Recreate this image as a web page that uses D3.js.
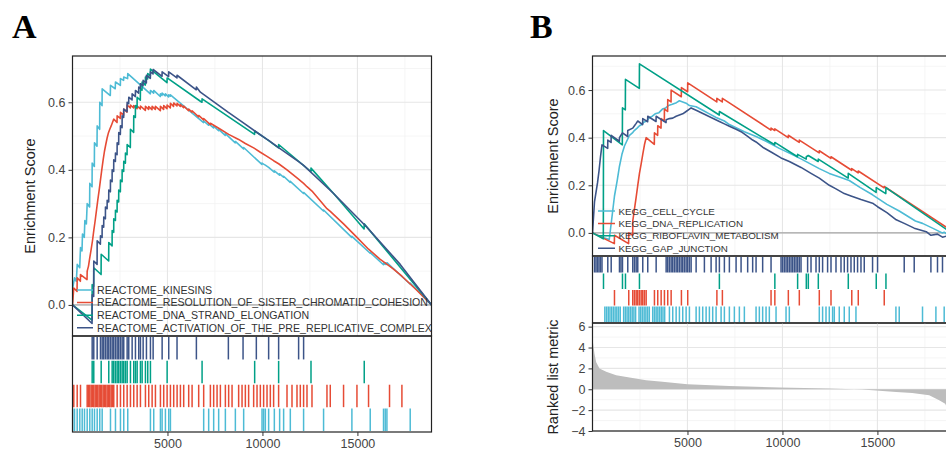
<!DOCTYPE html>
<html>
<head>
<meta charset="utf-8">
<script src="https://cdn.jsdelivr.net/npm/d3@7"></script>
<style>
  body { margin: 0; background: #fff; }
  svg { display: block; font-family: "Liberation Sans", Arial, sans-serif; }
</style>
</head>
<body>
<svg></svg>
<script>
// ---- data ----
const rankMax = 18900;
const xTicks = [5000, 10000, 15000];
const xMinor = [2500, 7500, 12500, 17500];
const esTicks = [0, 0.2, 0.4, 0.6];
const esMinor = [0.1, 0.3, 0.5, 0.7];
const metricTicks = [-4, -2, 0, 2, 4, 6];
const metricMinor = [-3, -1, 1, 3, 5];

const namesA = ["REACTOME_KINESINS", "REACTOME_RESOLUTION_OF_SISTER_CHROMATID_COHESION",
  "REACTOME_DNA_STRAND_ELONGATION", "REACTOME_ACTIVATION_OF_THE_PRE_REPLICATIVE_COMPLEX"];
const namesB = ["KEGG_CELL_CYCLE", "KEGG_DNA_REPLICATION", "KEGG_RIBOFLAVIN_METABOLISM", "KEGG_GAP_JUNCTION"];
const colors = ["#4DBBD5", "#E64B35", "#00A087", "#3C5488"];

// running enrichment score, [rank, ES]
const esKinesins = [[0,0],[10,0.05],[105,0.08],[200,0.07],[250,0.12],[380,0.11],[421,0.17],[500,0.16],[526,0.21],[620,0.20],[650,0.25],[730,0.24],[773,0.30],[900,0.29],[910,0.36],[1030,0.35],[1036,0.42],[1150,0.41],[1157,0.48],[1290,0.47],[1299,0.53],[1430,0.52],[1436,0.60],[1556,0.59],[1562,0.64],[1990,0.62],[2000,0.65],[2250,0.64],[2262,0.66],[2520,0.65],[2525,0.67],[2690,0.665],[2698,0.675],[2900,0.67],[2909,0.685],[4098,0.625],[4103,0.635],[4270,0.627],[4276,0.635],[4620,0.617],[4629,0.625],[4712,0.62],[4718,0.627],[4885,0.619],[4892,0.625],[5060,0.616],[5066,0.622],[5150,0.618],[5155,0.622],[6900,0.54],[6906,0.545],[7160,0.532],[7169,0.537],[7425,0.524],[7432,0.529],[7690,0.516],[7695,0.52],[8040,0.502],[8048,0.507],[8570,0.48],[8574,0.484],[9005,0.462],[9011,0.466],[9970,0.416],[9978,0.42],[10062,0.417],[10152,0.414],[10326,0.407],[10620,0.393],[10626,0.397],[10900,0.384],[10905,0.388],[11110,0.378],[11115,0.381],[11460,0.363],[11467,0.366],[12160,0.33],[12166,0.333],[13210,0.278],[13218,0.281],[14700,0.2],[14709,0.203],[15670,0.153],[15674,0.155],[16370,0.119],[16374,0.124],[16460,0.12],[16464,0.125],[16550,0.12],[16553,0.125],[17770,0.062],[17779,0.065],[18900,0]];
const esCohesion = [[0,0],[68,0.05],[240,0.04],[247,0.08],[415,0.07],[421,0.09],[765,0.075],[773,0.10],[842,0.115],[910,0.14],[984,0.165],[1052,0.19],[1120,0.22],[1194,0.25],[1262,0.28],[1331,0.31],[1404,0.34],[1473,0.37],[1541,0.40],[1615,0.43],[1683,0.455],[1752,0.475],[1825,0.495],[1894,0.51],[1962,0.52],[2036,0.53],[2104,0.54],[2172,0.55],[2345,0.54],[2351,0.56],[2520,0.552],[2525,0.57],[2690,0.562],[2698,0.58],[2870,0.571],[2877,0.592],[3045,0.583],[3051,0.592],[3220,0.583],[3224,0.59],[3400,0.581],[3403,0.589],[3570,0.58],[3577,0.589],[3835,0.576],[3840,0.588],[4008,0.579],[4013,0.587],[4185,0.578],[4192,0.588],[4360,0.579],[4366,0.588],[4625,0.575],[4629,0.588],[4798,0.579],[4802,0.59],[4975,0.581],[4981,0.592],[5150,0.583],[5155,0.597],[5320,0.588],[5328,0.598],[5500,0.589],[5507,0.597],[5675,0.588],[5681,0.593],[5850,0.584],[5854,0.589],[6110,0.575],[6117,0.58],[6290,0.571],[6296,0.575],[6640,0.557],[6643,0.561],[6900,0.548],[6906,0.552],[7255,0.534],[7259,0.538],[7785,0.52],[8221,0.505],[8747,0.49],[9100,0.478],[9537,0.465],[9889,0.452],[10241,0.44],[10588,0.427],[10851,0.418],[11293,0.40],[11556,0.388],[11819,0.376],[12166,0.36],[12345,0.35],[12608,0.337],[13397,0.285],[13571,0.277],[14270,0.24],[14975,0.2],[15586,0.165],[16201,0.135],[16690,0.115],[16901,0.106],[17342,0.085],[18100,0.045],[18900,0]];
const esStrand = [[0,0],[1030,-0.045],[1036,0.06],[1115,0.055],[1120,0.11],[1505,0.09],[1510,0.15],[1905,0.13],[1910,0.185],[2085,0.175],[2088,0.22],[2170,0.215],[2172,0.255],[2260,0.25],[2262,0.28],[2348,0.275],[2351,0.31],[2430,0.305],[2435,0.34],[2520,0.335],[2525,0.37],[2610,0.365],[2614,0.40],[2695,0.395],[2698,0.425],[2785,0.42],[2788,0.45],[2873,0.445],[2877,0.475],[3045,0.466],[3051,0.52],[3220,0.511],[3224,0.56],[3310,0.555],[3314,0.59],[3400,0.585],[3403,0.615],[3570,0.606],[3577,0.64],[3660,0.636],[3666,0.66],[3835,0.651],[3840,0.675],[3955,0.669],[3961,0.685],[4098,0.678],[4103,0.698],[4975,0.658],[4982,0.672],[6733,0.603],[6815,0.60],[6822,0.61],[9585,0.505],[9590,0.515],[10241,0.49],[10845,0.465],[10852,0.475],[12550,0.395],[12556,0.405],[13745,0.33],[15350,0.225],[15359,0.24],[18900,0]];
const esPreRep = [[0,0],[1030,-0.055],[1036,0.03],[1115,0.025],[1120,0.13],[1295,0.12],[1299,0.19],[1468,0.18],[1473,0.205],[1558,0.2],[1562,0.235],[1642,0.23],[1646,0.26],[1732,0.255],[1736,0.29],[1822,0.285],[1826,0.31],[1906,0.305],[1910,0.34],[1995,0.335],[1999,0.37],[2084,0.365],[2088,0.40],[2168,0.395],[2172,0.43],[2258,0.425],[2262,0.45],[2347,0.445],[2351,0.48],[2430,0.475],[2435,0.51],[2520,0.505],[2525,0.53],[2610,0.525],[2614,0.56],[2694,0.555],[2698,0.58],[2870,0.572],[2877,0.60],[2958,0.596],[2962,0.615],[3135,0.607],[3140,0.625],[3310,0.617],[3314,0.635],[3483,0.627],[3488,0.645],[3573,0.641],[3577,0.655],[3714,0.649],[3719,0.665],[3888,0.657],[3893,0.68],[4098,0.671],[4103,0.69],[4240,0.684],[4245,0.697],[4714,0.677],[4719,0.69],[5060,0.676],[5066,0.69],[5498,0.672],[5503,0.68],[6517,0.637],[6522,0.645],[6733,0.63],[8206,0.57],[8979,0.54],[9678,0.512],[10241,0.49],[10326,0.487],[10852,0.466],[11904,0.424],[12167,0.413],[13745,0.33],[15500,0.23],[17253,0.12],[18900,0]];

const esCellCycle = [[0,0],[600,-0.02],[880,-0.028],[1000,0.05],[1157,0.155],[1300,0.22],[1420,0.28],[1550,0.33],[1683,0.365],[1800,0.385],[1946,0.41],[2100,0.42],[2200,0.43],[2350,0.44],[2472,0.45],[2600,0.455],[2700,0.465],[2850,0.47],[2998,0.485],[3150,0.49],[3300,0.50],[3500,0.505],[3682,0.52],[3850,0.525],[4000,0.535],[4200,0.54],[4418,0.547],[4576,0.555],[4750,0.55],[4929,0.545],[5102,0.535],[5455,0.53],[5802,0.515],[6154,0.50],[6507,0.485],[6943,0.47],[7206,0.455],[7995,0.425],[8611,0.405],[9137,0.385],[9836,0.355],[10362,0.335],[11000,0.31],[11940,0.27],[12466,0.25],[13000,0.235],[13518,0.22],[14100,0.19],[14744,0.16],[15500,0.12],[16148,0.092],[17000,0.05],[17374,0.04],[17900,0.02],[18410,0.0],[18515,0.003],[18900,-0.02]];
const esDnaRep = [[0,0],[1150,-0.045],[1157,-0.01],[1900,-0.045],[1909,0.0],[2115,-0.01],[2120,0.05],[2209,0.10],[2299,0.15],[2383,0.20],[2472,0.25],[2562,0.29],[2646,0.33],[2735,0.37],[2825,0.40],[3255,0.372],[3261,0.42],[3430,0.41],[3435,0.45],[3608,0.44],[3614,0.48],[3782,0.47],[3787,0.52],[3955,0.51],[3961,0.56],[4135,0.55],[4140,0.60],[4675,0.572],[4681,0.61],[5007,0.593],[5013,0.63],[6543,0.55],[6549,0.565],[6832,0.55],[6838,0.565],[7206,0.546],[9394,0.432],[9400,0.44],[9594,0.43],[9600,0.437],[10304,0.40],[10310,0.41],[10882,0.38],[10888,0.39],[11934,0.336],[11940,0.345],[12550,0.313],[12556,0.32],[13644,0.263],[13650,0.27],[13986,0.252],[13992,0.26],[15353,0.189],[15359,0.195],[18900,0.01]];
const esRiboflavin = [[0,0],[570,-0.025],[579,0.43],[1570,0.37],[1578,0.525],[1728,0.517],[1736,0.645],[2465,0.607],[2472,0.71],[6672,0.495],[6680,0.51],[9590,0.37],[9600,0.38],[10790,0.32],[10799,0.33],[11250,0.31],[11256,0.32],[11362,0.325],[11880,0.30],[11888,0.31],[13460,0.23],[13466,0.25],[14930,0.17],[14938,0.19],[15440,0.165],[15449,0.19],[18900,0]];
const esGapJunction = [[0,0],[105,0.13],[184,0.17],[263,0.21],[342,0.26],[421,0.32],[500,0.37],[800,0.355],[805,0.39],[978,0.38],[984,0.41],[1414,0.385],[1420,0.40],[1499,0.41],[1578,0.42],[1851,0.405],[1857,0.43],[2120,0.44],[2209,0.45],[2299,0.46],[2383,0.47],[2640,0.455],[2646,0.48],[2903,0.467],[2909,0.49],[3345,0.468],[3351,0.49],[3871,0.463],[3877,0.475],[4050,0.48],[4224,0.482],[4403,0.49],[4576,0.495],[4750,0.5],[4929,0.51],[5102,0.52],[5192,0.525],[5455,0.515],[5891,0.498],[6244,0.485],[6680,0.468],[6943,0.458],[7206,0.448],[7559,0.435],[7822,0.425],[8169,0.405],[8432,0.39],[8611,0.382],[8958,0.36],[9400,0.34],[9926,0.315],[10362,0.3],[10978,0.275],[11504,0.25],[11940,0.23],[12466,0.2],[12819,0.185],[13255,0.165],[13608,0.155],[14134,0.14],[14744,0.125],[15007,0.11],[15500,0.085],[15990,0.055],[16411,0.04],[16937,0.02],[17570,0.005],[17816,-0.01],[18163,-0.005],[18426,-0.018],[18900,-0.008]];

// hit positions (rank of each gene set member)
const hitsKinesins = [10,105,247,384,510,631,773,910,1036,1157,1299,1436,1562,2000,2262,2525,2698,2909,4103,4276,4629,4718,4892,5066,5155,6906,7169,7432,7695,8048,8574,9011,9978,10062,10152,10326,10626,10905,11115,11467,12166,13218,14709,15674,16374,16464,16553,17779];
const hitsCohesion = [68,247,421,773,842,910,984,1052,1120,1194,1262,1331,1404,1473,1541,1615,1683,1752,1825,1894,1962,2036,2104,2172,2351,2525,2698,2877,3051,3224,3403,3577,3840,4013,4192,4366,4629,4802,4981,5155,5328,5507,5681,5854,6117,6296,6643,6906,7259,7432,7611,7785,8048,8221,8400,8747,8926,9100,9273,9537,9715,9889,10062,10241,10415,10588,10851,11293,11556,11819,11993,12166,12345,12608,13397,13571,14270,14975,15586,16690,17342];
const hitsStrand = [1036,1120,1510,1910,2088,2172,2262,2351,2435,2525,2614,2698,2788,2877,3051,3224,3314,3403,3577,3666,3840,3961,4103,4982,6822,9590,10852,12556,15359];
const hitsPreRep = [1036,1120,1299,1473,1562,1646,1736,1826,1910,1999,2088,2172,2262,2351,2435,2525,2614,2698,2877,2962,3140,3314,3488,3577,3719,3893,4103,4245,4719,5066,5503,6522,8206,8979,9678,10326,10852,11904,12167];

const hitsCellCycle = [650,740,830,920,1010,1100,1190,1280,1370,1460,1640,1730,1820,1910,2000,2090,2180,2270,2450,2540,2630,2720,2810,2900,2990,3170,3260,3350,3440,3530,3620,3710,3800,4050,4224,4403,4576,4750,4929,5102,5455,5628,5802,5981,6154,6328,6507,6770,6943,7206,7469,7732,7995,8611,8784,8958,9137,9310,9663,10189,10362,11940,12114,12293,12466,12640,12729,12992,13255,13518,13870,15974,16148,17374,18079,18515];
const hitsDnaRep = [1157,1909,2120,2209,2299,2383,2472,2562,2646,2735,2825,3261,3435,3614,3787,3961,4140,4681,5013,6549,6838,9400,9600,10310,10888,11940,12556,13650,13992,15359];
const hitsRiboflavin = [579,1578,1736,2472,6680,9600,10799,11256,11362,11888,13466,14938,15449];
const hitsGapJunction = [105,184,263,342,421,500,805,984,1420,1499,1578,1857,2120,2209,2299,2383,2646,2909,3351,3877,3961,4050,4140,4224,4313,4403,4487,4576,4666,4750,4839,4929,5013,5102,5192,5455,5891,6244,6507,6680,6943,7206,7559,7822,8169,8432,8611,8958,9400,9926,10010,10099,10189,10273,10362,10452,10536,10625,10715,10799,10888,10978,11325,11504,11767,11940,12114,12377,12556,12819,13082,13255,13429,13608,13781,13955,14134,14307,14744,15007,16411,16937,17816,18163,18426];

// ranked list metric (panel B)
const metricRank = [1,105,195,368,721,1247,1946,2825,3682,4997,7206,9836,12466,14202,15990,16832,17726,18252,18568,18900];
const metricValue = [4.8,3.4,2.6,2.0,1.67,1.35,1.12,0.87,0.71,0.48,0.32,0.16,0.07,-0.03,-0.26,-0.35,-0.58,-1.06,-1.4,-2.6];

// ---- drawing ----
const svg = d3.select("svg").attr("width", 946).attr("height", 454);
const gridMajor = "#e6e6e6";
const gridMinor = "#f2f2f2";
const textColor = "#444";

function styleAxis(g) {
  g.select(".domain").remove();
  g.selectAll(".tick line").attr("stroke", "#333");
  g.selectAll(".tick text").attr("fill", textColor).style("font-size", "12.5px");
}

function gridLines(g, x, y, yMajor, yMinorVals, left, right, top, bottom) {
  g.selectAll(null).data(yMinorVals).enter().append("line")
    .attr("x1", left).attr("x2", right)
    .attr("y1", (d) => y(d)).attr("y2", (d) => y(d))
    .attr("stroke", gridMinor).attr("stroke-width", 0.8);
  g.selectAll(null).data(xMinor).enter().append("line")
    .attr("x1", (d) => x(d)).attr("x2", (d) => x(d))
    .attr("y1", top).attr("y2", bottom)
    .attr("stroke", gridMinor).attr("stroke-width", 0.8);
  g.selectAll(null).data(yMajor).enter().append("line")
    .attr("x1", left).attr("x2", right)
    .attr("y1", (d) => y(d)).attr("y2", (d) => y(d))
    .attr("stroke", gridMajor).attr("stroke-width", 1.1);
  g.selectAll(null).data(xTicks).enter().append("line")
    .attr("x1", (d) => x(d)).attr("x2", (d) => x(d))
    .attr("y1", top).attr("y2", bottom)
    .attr("stroke", gridMajor).attr("stroke-width", 1.1);
}

function gsea(cfg) {
  const x = d3.scaleLinear().domain([0, rankMax]).range([cfg.left, cfg.right]);
  const y = d3.scaleLinear().domain(cfg.esDomain).range([cfg.esBottom, cfg.esTop]);
  const g = svg.append("g");
  const w = cfg.right - cfg.left;

  g.append("clipPath").attr("id", "clip" + cfg.id).append("rect")
    .attr("x", cfg.left).attr("y", cfg.esTop)
    .attr("width", w).attr("height", cfg.esBottom - cfg.esTop);

  // ES panel
  const es = g.append("g").attr("clip-path", `url(#clip${cfg.id})`);
  gridLines(es, x, y, esTicks, esMinor, cfg.left, cfg.right, cfg.esTop, cfg.esBottom);
  es.append("line")
    .attr("x1", cfg.left).attr("x2", cfg.right)
    .attr("y1", y(0)).attr("y2", y(0))
    .attr("stroke", "#8c8c8c").attr("stroke-width", 0.9);

  const line = d3.line().x((d) => x(d[0])).y((d) => y(d[1]));
  cfg.es.forEach((s, i) => {
    es.append("path")
      .datum(s)
      .attr("d", line)
      .attr("fill", "none")
      .attr("stroke", colors[i])
      .attr("stroke-width", 1.6)
      .attr("stroke-linejoin", "round");
  });

  // legend
  cfg.names.forEach((n, i) => {
    const ly = cfg.legendY + i * cfg.legendStep;
    es.append("line")
      .attr("x1", cfg.keyX1).attr("x2", cfg.keyX2)
      .attr("y1", ly).attr("y2", ly)
      .attr("stroke", colors[i]).attr("stroke-width", 1.5);
    es.append("text")
      .attr("x", cfg.textX).attr("y", ly)
      .attr("dy", "0.36em")
      .attr("fill", "#333")
      .style("font-size", cfg.legendFont + "px")
      .text(n);
  });

  g.append("rect")
    .attr("x", cfg.left).attr("y", cfg.esTop)
    .attr("width", w).attr("height", cfg.esBottom - cfg.esTop)
    .attr("fill", "none").attr("stroke", "#222").attr("stroke-width", 1.2);

  // hit panel (rows top to bottom: last series first)
  const rows = d3.scaleBand().domain([3, 2, 1, 0])
    .range([cfg.esBottom + 1, cfg.hitBottom - 1]).paddingInner(0.06);
  cfg.hits.forEach((h, i) => {
    g.append("g").selectAll("line")
      .data(h)
      .enter()
      .append("line")
      .attr("x1", (d) => x(d)).attr("x2", (d) => x(d))
      .attr("y1", rows(i)).attr("y2", rows(i) + rows.bandwidth())
      .attr("stroke", colors[i])
      .attr("stroke-width", 1.5);
  });
  g.append("rect")
    .attr("x", cfg.left).attr("y", cfg.esBottom)
    .attr("width", w).attr("height", cfg.hitBottom - cfg.esBottom)
    .attr("fill", "none").attr("stroke", "#222").attr("stroke-width", 1.2);

  // ES axis
  g.append("g")
    .attr("transform", `translate(${cfg.left}, 0)`)
    .call(d3.axisLeft(y).tickValues(esTicks).tickFormat(d3.format(".1f")).tickSize(4).tickPadding(3))
    .call(styleAxis);
  g.append("text")
    .attr("transform", `translate(${cfg.titleX}, ${(cfg.esTop + cfg.esBottom) / 2}) rotate(-90)`)
    .attr("text-anchor", "middle")
    .attr("fill", "#222")
    .style("font-size", "14.5px")
    .text("Enrichment Score");

  let bottom = cfg.hitBottom;

  // ranked list metric panel
  if (cfg.rankBottom) {
    bottom = cfg.rankBottom;
    const yR = d3.scaleLinear().domain([-4, 6.35]).range([cfg.rankBottom, cfg.hitBottom]);
    const rk = g.append("g");
    gridLines(rk, x, yR, metricTicks, metricMinor, cfg.left, cfg.right, cfg.hitBottom, cfg.rankBottom);
    const area = d3.area()
      .x((d, i) => x(metricRank[i]))
      .y0(yR(0))
      .y1((d) => yR(d));
    rk.append("path")
      .datum(metricValue)
      .attr("d", area)
      .attr("fill", "#bdbdbd");
    g.append("rect")
      .attr("x", cfg.left).attr("y", cfg.hitBottom)
      .attr("width", w).attr("height", cfg.rankBottom - cfg.hitBottom)
      .attr("fill", "none").attr("stroke", "#222").attr("stroke-width", 1.2);
    g.append("g")
      .attr("transform", `translate(${cfg.left}, 0)`)
      .call(d3.axisLeft(yR).tickValues(metricTicks).tickSize(4).tickPadding(3))
      .call(styleAxis);
    g.append("text")
      .attr("transform", `translate(${cfg.titleX}, ${(cfg.hitBottom + cfg.rankBottom) / 2}) rotate(-90)`)
      .attr("text-anchor", "middle")
      .attr("fill", "#222")
      .style("font-size", "14.5px")
      .text("Ranked list metric");
  }

  g.append("g")
    .attr("transform", `translate(0, ${bottom})`)
    .call(d3.axisBottom(x).tickValues(xTicks).tickFormat(d3.format("d")).tickSize(4).tickPadding(3))
    .call(styleAxis);

  svg.append("text")
    .attr("x", cfg.labelX).attr("y", 38)
    .style("font-family", "'Liberation Serif', 'Times New Roman', serif")
    .style("font-weight", "bold")
    .style("font-size", "34px")
    .text(cfg.label);
}

gsea({
  id: "A", label: "A", labelX: 12,
  left: 72.5, right: 431.5, esTop: 56, esBottom: 336, hitBottom: 432,
  esDomain: [-0.092, 0.737],
  names: namesA,
  es: [esKinesins, esCohesion, esStrand, esPreRep],
  hits: [hitsKinesins, hitsCohesion, hitsStrand, hitsPreRep],
  legendY: 290, legendStep: 12.6, legendFont: 10.6,
  keyX1: 77, keyX2: 93, textX: 97,
  titleX: 35
});

gsea({
  id: "B", label: "B", labelX: 530,
  left: 592.5, right: 951.5, esTop: 56, esBottom: 256, hitBottom: 323, rankBottom: 431,
  esDomain: [-0.097, 0.743],
  names: namesB,
  es: [esCellCycle, esDnaRep, esRiboflavin, esGapJunction],
  hits: [hitsCellCycle, hitsDnaRep, hitsRiboflavin, hitsGapJunction],
  legendY: 211, legendStep: 12.4, legendFont: 9.8,
  keyX1: 598, keyX2: 615, textX: 618.5,
  titleX: 558
});
</script>
</body>
</html>
